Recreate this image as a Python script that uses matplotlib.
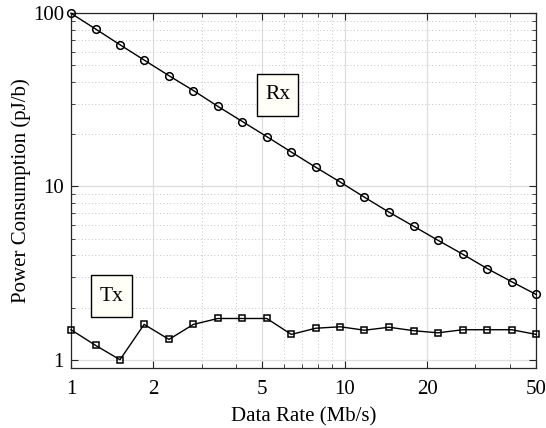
import matplotlib
matplotlib.use('Agg')
import matplotlib.pyplot as plt
from matplotlib.patches import Rectangle
from matplotlib.ticker import FixedLocator, FixedFormatter, NullFormatter

plt.rcParams['font.family'] = ['Liberation Serif', 'DejaVu Serif']
plt.rcParams['font.size'] = 15

# data rate (Mb/s)
rate = [1.0, 1.23, 1.51, 1.85, 2.28, 2.80, 3.44, 4.23, 5.19, 6.38,
        7.84, 9.63, 11.8, 14.5, 17.9, 21.9, 27.0, 33.1, 40.7, 50.0]
# power consumption (pJ/b)
rx = [100, 81.1, 65.8, 53.7, 43.6, 35.8, 29.0, 23.7, 19.4, 15.8,
      12.9, 10.6, 8.67, 7.11, 5.88, 4.89, 4.06, 3.36, 2.82, 2.38]
tx = [1.49, 1.21, 1.00, 1.60, 1.31, 1.60, 1.73, 1.73, 1.73, 1.40,
      1.52, 1.55, 1.48, 1.54, 1.47, 1.43, 1.49, 1.49, 1.49, 1.40]

x_ticks = [1, 2, 5, 10, 20, 50]
x_labels = ['1', '2', '5', '10', '20', '50']
y_ticks = [1, 10, 100]
y_labels = ['1', '10', '100']

fig = plt.figure(figsize=(5.46, 4.28), dpi=100)
ax = fig.add_axes([0.130, 0.141, 0.852, 0.828])

ax.plot(rate, rx, '-o', color='black', lw=1.0, ms=5.5, mfc='none', mew=1.1, clip_on=False, zorder=3)
ax.plot(rate, tx, '-s', color='black', lw=1.0, ms=4.7, mfc='none', mew=1.1, clip_on=False, zorder=3)

ax.set_xscale('log')
ax.set_yscale('log')
ax.set_xlim(1, 50)
ax.set_ylim(0.9, 100)

ax.xaxis.set_major_locator(FixedLocator(x_ticks))
ax.xaxis.set_major_formatter(FixedFormatter(x_labels))
ax.xaxis.set_minor_formatter(NullFormatter())
ax.yaxis.set_major_locator(FixedLocator(y_ticks))
ax.yaxis.set_major_formatter(FixedFormatter(y_labels))
ax.yaxis.set_minor_formatter(NullFormatter())

ax.grid(True, which='major', color='#dedede', linestyle='-', linewidth=0.9)
ax.grid(True, which='minor', color='#c4c4c4', linestyle=(0, (1, 2.5)), linewidth=0.7)
ax.set_axisbelow(True)

ax.tick_params(which='both', direction='in', top=True, right=True, colors='#262626', labelcolor='black')
ax.tick_params(which='major', length=5, width=0.8)
ax.tick_params(axis='x', which='major', pad=9)
ax.tick_params(axis='y', which='major', pad=5)
ax.tick_params(which='minor', length=3, width=0.6)
for s in ax.spines.values():
    s.set_color('#262626')
    s.set_linewidth(0.9)

ax.set_xlabel('Data Rate (Mb/s)', labelpad=6)
ax.set_ylabel('Power Consumption (pJ/b)', labelpad=1.5)

# label boxes (centre in axes fraction)
w, h = 0.088, 0.118
for label, cx, cy in [('Rx', 0.444, 0.770), ('Tx', 0.088, 0.202)]:
    ax.add_patch(Rectangle((cx - w / 2, cy - h / 2), w, h, transform=ax.transAxes,
                           facecolor='#fffff8', edgecolor='black', linewidth=1.0, zorder=4))
    ax.text(cx, cy, label, transform=ax.transAxes, ha='center', va='center',
            fontsize=15.5, zorder=5)

fig.savefig('out.png', dpi=100)
